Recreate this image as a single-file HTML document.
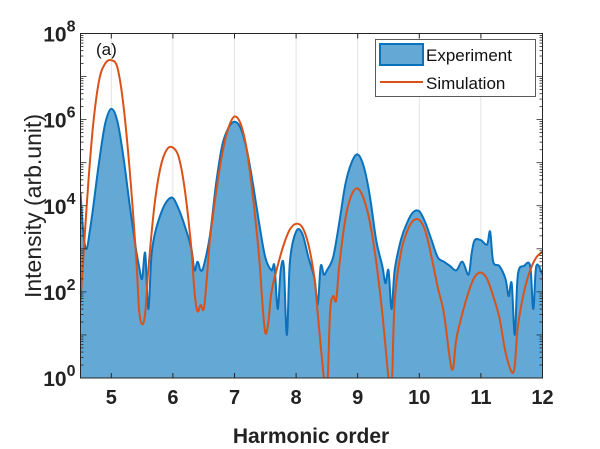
<!DOCTYPE html>
<html><head><meta charset="utf-8"><style>
body{margin:0;background:#fff;}
svg{font-family:"Liberation Sans",Arial,sans-serif;}
</style></head><body>
<svg id="chart" width="600" height="449" viewBox="0 0 600 449" style="position:absolute;left:0;top:0"></svg>
<script>
const expX=[4.5,4.55,4.6,4.65,4.7,4.8,4.9,5.0,5.1,5.2,5.3,5.4,5.45,5.5,5.55,5.6,5.65,5.7,5.8,5.9,6.0,6.1,6.2,6.3,6.35,6.4,6.45,6.5,6.6,6.7,6.8,6.9,7.0,7.1,7.2,7.3,7.4,7.5,7.6,7.65,7.7,7.75,7.8,7.85,7.9,8.0,8.1,8.2,8.3,8.35,8.4,8.45,8.5,8.6,8.7,8.8,8.9,9.0,9.1,9.2,9.3,9.4,9.45,9.5,9.55,9.6,9.7,9.8,9.9,10.0,10.1,10.2,10.3,10.4,10.5,10.6,10.7,10.8,10.85,10.9,11.0,11.1,11.15,11.2,11.3,11.4,11.45,11.5,11.55,11.6,11.7,11.8,11.85,11.9,12.0];
const expLog=[4.3,3.3,3.0,3.4,3.9,5.0,5.9,6.25,5.95,5.1,4.0,3.0,2.6,2.3,2.9,1.6,2.8,3.3,3.8,4.1,4.18,3.9,3.5,3.0,2.5,2.7,2.5,2.6,3.3,4.5,5.4,5.8,5.95,5.8,5.3,4.5,3.6,2.8,2.5,2.6,1.6,2.5,2.6,1.0,2.7,3.4,3.35,2.8,2.3,1.7,2.6,2.4,2.5,2.8,3.6,4.5,5.0,5.19,4.9,4.2,3.2,2.6,2.2,2.5,1.6,2.5,3.2,3.6,3.85,3.87,3.6,3.2,2.8,2.7,2.6,2.5,2.7,2.4,2.9,3.2,3.2,3.1,3.4,2.7,2.6,2.3,1.9,2.2,1.0,2.4,2.6,2.6,1.6,2.6,2.4];
const simX=[4.5,4.6,4.7,4.8,4.9,5.0,5.1,5.2,5.3,5.4,5.45,5.5,5.55,5.6,5.7,5.8,5.9,6.0,6.1,6.2,6.3,6.35,6.4,6.45,6.5,6.55,6.6,6.7,6.8,6.9,7.0,7.1,7.2,7.3,7.4,7.45,7.5,7.55,7.6,7.7,7.8,7.9,8.0,8.1,8.2,8.3,8.35,8.45,8.5,8.55,8.6,8.65,8.7,8.8,8.9,9.0,9.1,9.2,9.3,9.4,9.5,9.55,9.6,9.7,9.8,9.9,10.0,10.1,10.2,10.3,10.4,10.5,10.55,10.6,10.7,10.8,10.9,11.0,11.1,11.2,11.3,11.4,11.5,11.55,11.6,11.7,11.8,11.9,12.0];
const simLog=[1.75,4.0,5.8,6.9,7.3,7.38,7.2,6.3,4.8,2.9,1.6,1.25,1.5,2.5,4.0,4.9,5.3,5.35,5.1,4.3,3.0,2.0,1.55,1.7,1.6,2.3,3.2,4.3,5.2,5.8,6.07,5.9,5.3,4.2,2.8,1.8,1.05,1.3,2.0,2.6,3.1,3.45,3.58,3.5,3.1,2.3,1.5,0,-0.5,1.5,1.9,1.8,2.6,3.7,4.25,4.4,4.15,3.6,2.7,1.5,0,-0.3,1.8,2.9,3.4,3.65,3.67,3.4,2.8,2.1,1.5,0.4,0.23,0.9,1.5,2.0,2.35,2.45,2.3,1.9,1.4,0.6,0.14,0.3,1.2,2.0,2.5,2.8,2.93];
const xTicks=[5,6,7,8,9,10,11,12];
const yTicks=[0,2,4,6,8];

const L=80.5,R=542.5,T=33.5,B=378;
const sx=v=>L+(v-4.5)/(12-4.5)*(R-L);
const sy=v=>B-(v/8)*(B-T);
const NS="http://www.w3.org/2000/svg";
const svg=document.getElementById('chart');
function mk(tag,attrs,parent){const e=document.createElementNS(NS,tag);for(const k in attrs)e.setAttribute(k,attrs[k]);(parent||svg).appendChild(e);return e;}
function smooth(xs,ys){
  const p=xs.map((x,i)=>[sx(x),sy(ys[i])]);
  let d='M'+p[0][0].toFixed(1)+','+p[0][1].toFixed(1);
  for(let i=0;i<p.length-1;i++){
    const p0=p[Math.max(0,i-1)],p1=p[i],p2=p[i+1],p3=p[Math.min(p.length-1,i+2)];
    const t=1/6;
    const c1=[p1[0]+(p2[0]-p0[0])*t,p1[1]+(p2[1]-p0[1])*t];
    const c2=[p2[0]-(p3[0]-p1[0])*t,p2[1]-(p3[1]-p1[1])*t];
    d+=' C'+c1[0].toFixed(1)+','+c1[1].toFixed(1)+' '+c2[0].toFixed(1)+','+c2[1].toFixed(1)+' '+p2[0].toFixed(1)+','+p2[1].toFixed(1);
  }
  return d;
}

const defs=mk('defs',{});
const cp=mk('clipPath',{id:'clip'},defs);
mk('rect',{x:L,y:T,width:R-L,height:B-T},cp);

xTicks.forEach(t=>{const g=mk('line',{x1:sx(t),x2:sx(t),y1:T,y2:B,stroke:'#e3e3e3','stroke-width':1});

});

const eD=smooth(expX,expLog);
const area=mk('path',{d:'M'+sx(expX[0])+','+B+' L'+eD.slice(1)+' L'+sx(expX[expX.length-1])+','+B+' Z',fill:'#64a8d6',stroke:'none','clip-path':'url(#clip)'});


const eline=mk('path',{d:eD,fill:'none',stroke:'#0a72bd','stroke-width':2,'stroke-linejoin':'round','clip-path':'url(#clip)'});



const sline=mk('path',{d:smooth(simX,simLog),fill:'none',stroke:'#d95319','stroke-width':2,'stroke-linejoin':'round','clip-path':'url(#clip)'});



const box=mk('rect',{x:L,y:T,width:R-L,height:B-T,fill:'none',stroke:'#262626','stroke-width':1});



for(let dec=0;dec<8;dec++){for(let m=1;m<10;m++){const v=dec+Math.log10(m);const y=sy(v);const len=m===1?6:3;
mk('line',{x1:L,x2:L+len,y1:y,y2:y,stroke:'#262626','stroke-width':0.8});
mk('line',{x1:R,x2:R-len,y1:y,y2:y,stroke:'#262626','stroke-width':0.8});}}
yTicks.forEach(t=>{const tx=mk('text',{x:L-5,y:sy(t)+8,'text-anchor':'end','font-size':21,'font-weight':'bold',fill:'#222'});


tx.innerHTML='10<tspan dy="-10" font-size="16">'+t+'</tspan>';});
xTicks.forEach(t=>{mk('line',{x1:sx(t),x2:sx(t),y1:B,y2:B-5,stroke:'#262626'});mk('line',{x1:sx(t),x2:sx(t),y1:T,y2:T+5,stroke:'#262626'});
const tx=mk('text',{x:sx(t),y:B+26,'text-anchor':'middle','font-size':20,'font-weight':'bold',fill:'#222'});


tx.textContent=t;});
</script>
<svg width="600" height="449" style="position:absolute;left:0;top:0;pointer-events:none">
<text x="311" y="443" text-anchor="middle" font-size="21" font-weight="bold" fill="#222" font-family="Liberation Sans, sans-serif">Harmonic order</text>
<text transform="translate(41,206) rotate(-90)" text-anchor="middle" font-size="23" fill="#222" font-family="Liberation Sans, sans-serif">Intensity (arb.unit)</text>
<text x="96" y="55" font-size="17" fill="#111" font-family="Liberation Sans, sans-serif">(a)</text>
<g>
<rect x="375.5" y="39.5" width="160" height="57" fill="#fff" stroke="#333" stroke-width="0.8"/>
<rect x="380" y="44" width="43" height="21" fill="#64a8d6" stroke="#0a72bd" stroke-width="2"/>
<text x="426" y="61" font-size="17" fill="#111" font-family="Liberation Sans, sans-serif">Experiment</text>
<line x1="380" x2="423" y1="82" y2="82" stroke="#d95319" stroke-width="2"/>
<text x="426" y="89" font-size="17" fill="#111" font-family="Liberation Sans, sans-serif">Simulation</text>
</g>
</svg>
</body></html>
